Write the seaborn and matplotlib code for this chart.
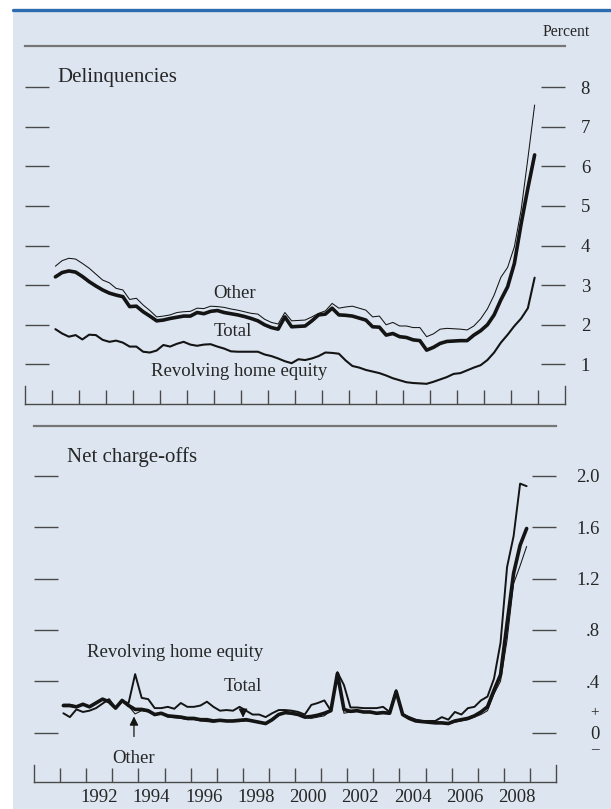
import numpy as np
import pandas as pd
import matplotlib
matplotlib.use("Agg")
import matplotlib.pyplot as plt
from matplotlib.patches import Rectangle
from matplotlib.lines import Line2D
import seaborn as sns

sns.set_style("white")
plt.rcParams["font.family"] = ["Liberation Serif", "DejaVu Serif"]

# Quarterly observations, 1991:Q1 - 2008:Q4, plotted at mid-quarter
quarters = pd.period_range("1991Q1", "2008Q4", freq="Q")
t = np.asarray(quarters.year + (quarters.quarter - 0.5) / 4, dtype=float)

# Delinquency rates, percent
delinq_other = [
    3.48, 3.62, 3.68, 3.66, 3.55, 3.43, 3.28, 3.13, 3.06, 2.92, 2.88, 2.64,
    2.67, 2.50, 2.36, 2.20, 2.22, 2.25, 2.31, 2.33, 2.34, 2.42, 2.41, 2.47,
    2.46, 2.44, 2.40, 2.37, 2.33, 2.29, 2.27, 2.14, 2.06, 2.02, 2.31, 2.10,
    2.11, 2.12, 2.20, 2.29, 2.35, 2.54, 2.42, 2.45, 2.47, 2.42, 2.37, 2.20,
    2.22, 2.00, 2.06, 1.97, 1.97, 1.93, 1.93, 1.70, 1.77, 1.89, 1.91, 1.90,
    1.89, 1.87, 1.97, 2.15, 2.40, 2.75, 3.20, 3.45, 3.97, 4.90, 6.20, 7.55]
delinq_total = [
    3.21, 3.32, 3.36, 3.33, 3.22, 3.09, 2.98, 2.88, 2.80, 2.75, 2.71, 2.46,
    2.47, 2.33, 2.22, 2.10, 2.12, 2.16, 2.19, 2.22, 2.22, 2.31, 2.28, 2.34,
    2.36, 2.31, 2.28, 2.25, 2.21, 2.16, 2.10, 2.00, 1.93, 1.89, 2.20, 1.95,
    1.96, 1.97, 2.10, 2.25, 2.27, 2.42, 2.25, 2.24, 2.22, 2.17, 2.12, 1.95,
    1.94, 1.74, 1.78, 1.70, 1.68, 1.62, 1.60, 1.36, 1.43, 1.53, 1.58, 1.59,
    1.60, 1.60, 1.74, 1.85, 2.00, 2.25, 2.63, 2.96, 3.55, 4.55, 5.45, 6.29]
delinq_rhe = [
    1.89, 1.78, 1.70, 1.74, 1.63, 1.75, 1.74, 1.62, 1.57, 1.60, 1.55, 1.45,
    1.45, 1.32, 1.30, 1.35, 1.49, 1.45, 1.52, 1.57, 1.50, 1.47, 1.50, 1.51,
    1.45, 1.40, 1.33, 1.32, 1.32, 1.32, 1.32, 1.25, 1.21, 1.15, 1.08, 1.03,
    1.13, 1.11, 1.15, 1.21, 1.30, 1.29, 1.27, 1.10, 0.96, 0.92, 0.86, 0.82,
    0.78, 0.72, 0.65, 0.60, 0.55, 0.53, 0.52, 0.51, 0.56, 0.62, 0.68, 0.76,
    0.78, 0.85, 0.92, 0.98, 1.11, 1.30, 1.55, 1.75, 1.97, 2.16, 2.42, 3.19]

# Net charge-off rates, percent
chg_rhe = [
    0.15, 0.12, 0.18, 0.16, 0.17, 0.19, 0.225, 0.26, 0.19, 0.24, 0.23, 0.455,
    0.27, 0.26, 0.19, 0.19, 0.20, 0.185, 0.23, 0.20, 0.20, 0.21, 0.24, 0.20,
    0.17, 0.175, 0.17, 0.20, 0.17, 0.14, 0.14, 0.12, 0.15, 0.175, 0.175, 0.17,
    0.16, 0.14, 0.215, 0.23, 0.25, 0.17, 0.47, 0.37, 0.195, 0.195, 0.19, 0.19,
    0.19, 0.20, 0.16, 0.33, 0.14, 0.12, 0.10, 0.09, 0.09, 0.09, 0.12, 0.10,
    0.16, 0.14, 0.19, 0.20, 0.25, 0.28, 0.42, 0.70, 1.29, 1.53, 1.94, 1.92]
chg_total = [
    0.21, 0.21, 0.20, 0.22, 0.20, 0.23, 0.26, 0.24, 0.19, 0.25, 0.21, 0.18,
    0.18, 0.17, 0.14, 0.15, 0.13, 0.125, 0.12, 0.11, 0.11, 0.10, 0.10, 0.09,
    0.095, 0.09, 0.09, 0.095, 0.10, 0.09, 0.08, 0.07, 0.10, 0.14, 0.155, 0.15,
    0.14, 0.12, 0.125, 0.135, 0.15, 0.17, 0.46, 0.18, 0.165, 0.17, 0.16, 0.16,
    0.15, 0.155, 0.15, 0.32, 0.14, 0.11, 0.09, 0.085, 0.08, 0.075, 0.075, 0.07,
    0.09, 0.10, 0.11, 0.13, 0.16, 0.20, 0.33, 0.45, 0.85, 1.24, 1.46, 1.59]
chg_other = [
    0.22, 0.22, 0.205, 0.225, 0.205, 0.235, 0.265, 0.24, 0.19, 0.25, 0.205, 0.145,
    0.17, 0.16, 0.135, 0.145, 0.12, 0.115, 0.11, 0.10, 0.10, 0.09, 0.085, 0.08,
    0.09, 0.085, 0.085, 0.085, 0.09, 0.085, 0.075, 0.065, 0.095, 0.135, 0.15, 0.145,
    0.135, 0.115, 0.11, 0.12, 0.13, 0.17, 0.45, 0.15, 0.16, 0.165, 0.155, 0.155,
    0.145, 0.15, 0.15, 0.32, 0.14, 0.11, 0.09, 0.085, 0.08, 0.072, 0.07, 0.068,
    0.08, 0.09, 0.10, 0.12, 0.14, 0.17, 0.30, 0.40, 0.72, 1.16, 1.30, 1.45]

year_edges = list(range(1990, 2011))
label_years = list(range(1992, 2009, 2))
delinq_ticks = [1, 2, 3, 4, 5, 6, 7, 8]
delinq_tick_labels = ["1", "2", "3", "4", "5", "6", "7", "8"]
chg_ticks = [0.0, 0.4, 0.8, 1.2, 1.6, 2.0]
chg_tick_labels = ["0", ".4", ".8", "1.2", "1.6", "2.0"]

INK = "#141414"
RULE = "#767676"
AXC = "#4a4a4a"
BG = "#dde6f0"
FS = 13.5

W, H = 611, 809
fig = plt.figure(figsize=(W / 100, H / 100), dpi=100)
fig.patch.set_facecolor("white")
fig.patches.append(Rectangle((13 / W, 0), 1 - 13 / W, 1 - 12 / H,
                             transform=fig.transFigure, facecolor=BG,
                             edgecolor="none", zorder=-10))
fig.lines.append(Line2D([13 / W, 1], [1 - 10 / H, 1 - 10 / H],
                        transform=fig.transFigure, color="#2c6bb0", lw=2.4))
fig.text(590 / W, 1 - 32 / H, "Percent", ha="right", va="center", fontsize=11.3)


def style_axes(ax, ylim, end_tick_px, px_per_unit, label_pad):
    ax.set_facecolor("none")
    ax.set_xlim(1990, 2010)
    ax.set_ylim(*ylim)
    for side in ["top", "bottom", "left", "right"]:
        ax.spines[side].set_visible(True)
    ax.spines["top"].set_color(RULE)
    ax.spines["top"].set_linewidth(1.6)
    ax.spines["bottom"].set_color(AXC)
    ax.spines["bottom"].set_linewidth(1.0)
    for side in ["left", "right"]:
        ax.spines[side].set_color(AXC)
        ax.spines[side].set_linewidth(1.0)
        ax.spines[side].set_bounds(ylim[0], ylim[0] + end_tick_px / px_per_unit)
    ax.set_xticks(year_edges[1:-1])
    ax.tick_params(axis="x", which="major", direction="in", length=10,
                   width=1.0, color=AXC, top=False, bottom=True,
                   labelbottom=False)
    ax.tick_params(axis="y", which="major", direction="in", length=17,
                   width=1.0, color=AXC, left=True, right=True,
                   labelleft=False, labelright=True, pad=label_pad,
                   labelsize=FS)
    ax.set_xlabel("")
    ax.set_ylabel("")


# ---- Delinquencies ----
ax1 = fig.add_axes([25 / W, 1 - 404 / H, 540 / W, 358 / H])
top_lim = (0, 358 / 39.6)
sns.lineplot(x=t, y=delinq_other, ax=ax1, color=INK, lw=0.75, estimator=None)
sns.lineplot(x=t, y=delinq_rhe, ax=ax1, color=INK, lw=1.5, estimator=None)
sns.lineplot(x=t, y=delinq_total, ax=ax1, color=INK, lw=2.6, estimator=None)
style_axes(ax1, top_lim, 18, 39.6, 18)
ax1.set_yticks(delinq_ticks)
ax1.set_yticklabels(delinq_tick_labels)
for tk in ax1.yaxis.get_major_ticks():
    tk.label2.set_horizontalalignment("right")

ax1.text(1991.19, 8.25, "Delinquencies", fontsize=15, ha="left", va="center")
ax1.text(1997.78, 2.80, "Other", fontsize=FS, ha="center", va="center")
ax1.text(1997.70, 1.84, "Total", fontsize=FS, ha="center", va="center")
ax1.text(1997.93, 0.81, "Revolving home equity", fontsize=FS,
         ha="center", va="center")

# ---- Net charge-offs ----
ax2 = fig.add_axes([34 / W, 1 - 782 / H, 522 / W, 356 / H])
bot_lim = (-49.5 / 128.3, 306.5 / 128.3)
sns.lineplot(x=t, y=chg_other, ax=ax2, color=INK, lw=0.75, estimator=None)
sns.lineplot(x=t, y=chg_rhe, ax=ax2, color=INK, lw=1.4, estimator=None)
sns.lineplot(x=t, y=chg_total, ax=ax2, color=INK, lw=2.6, estimator=None)
style_axes(ax2, bot_lim, 17.5, 128.3, 31.7)
ax2.set_yticks(chg_ticks)
ax2.set_yticklabels(chg_tick_labels)
for tk in ax2.yaxis.get_major_ticks():
    tk.label2.set_horizontalalignment("right")

# year labels centred within each calendar year
ax2.set_xticks([y + 0.5 for y in label_years], minor=True)
ax2.set_xticklabels([str(y) for y in label_years], minor=True)
ax2.tick_params(axis="x", which="minor", length=0, labelsize=FS, pad=5,
                labelbottom=True)

# signs around the zero line label
ax2.annotate("+", xy=(1, 0), xycoords=ax2.get_yaxis_transform(),
             xytext=(28, 14), textcoords="offset points",
             ha="center", va="center", fontsize=11)
ax2.annotate("\u2013", xy=(1, 0), xycoords=ax2.get_yaxis_transform(),
             xytext=(28, -12.5), textcoords="offset points",
             ha="center", va="center", fontsize=11)

ax2.text(1991.26, 2.15, "Net charge-offs", fontsize=15, ha="left", va="center")
ax2.text(1995.40, 0.62, "Revolving home equity", fontsize=FS,
         ha="center", va="center")
ax2.annotate("Total", xy=(1998.01, 0.115), xytext=(1998.01, 0.355),
             fontsize=FS, ha="center", va="center",
             arrowprops=dict(arrowstyle="-|>", color=INK, lw=0.9,
                             mutation_scale=13, shrinkA=7, shrinkB=0))
ax2.annotate("Other", xy=(1993.83, 0.125), xytext=(1993.83, -0.199),
             fontsize=FS, ha="center", va="center",
             arrowprops=dict(arrowstyle="-|>", color=INK, lw=0.9,
                             mutation_scale=13, shrinkA=7, shrinkB=0))

fig.savefig("out.png", dpi=100, facecolor=fig.get_facecolor())
